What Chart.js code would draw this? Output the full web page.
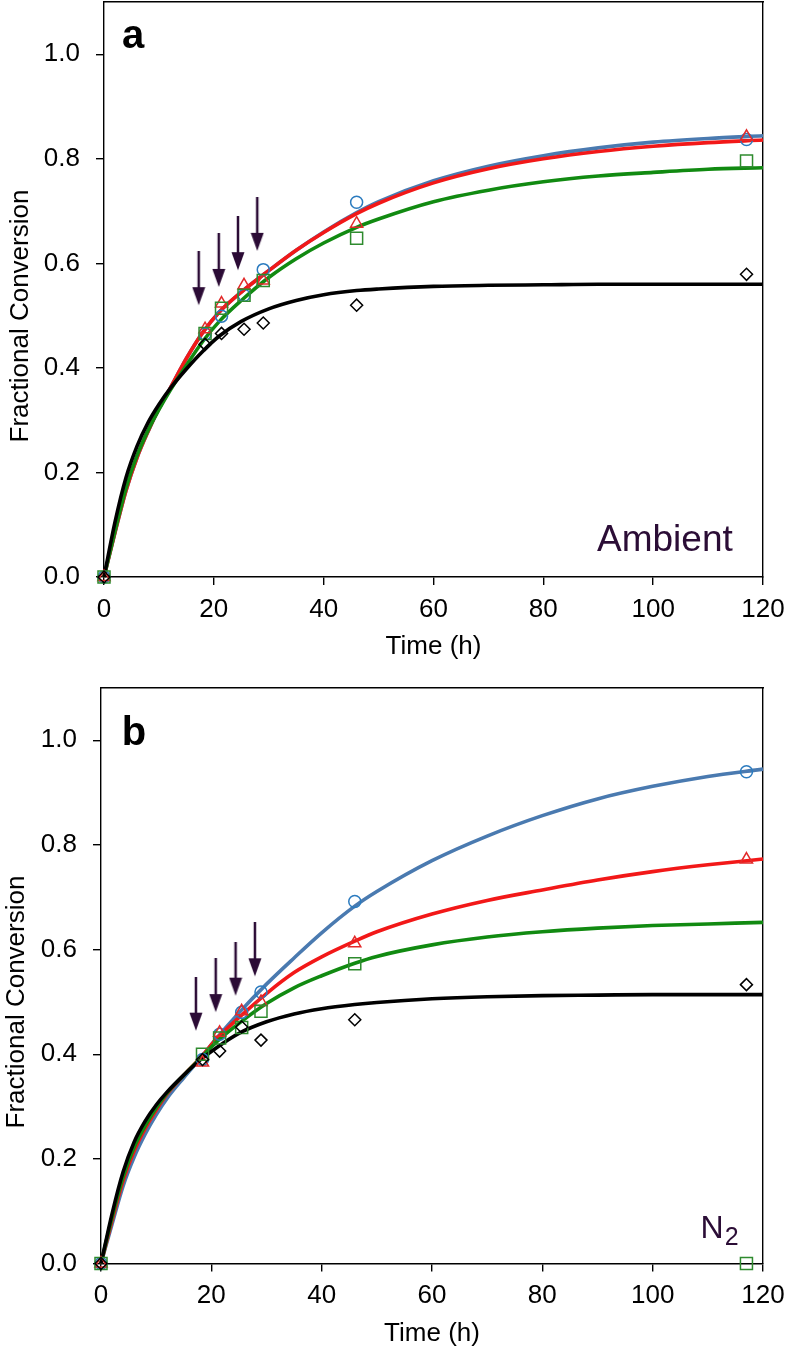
<!DOCTYPE html>
<html>
<head>
<meta charset="utf-8">
<script src="https://cdn.jsdelivr.net/npm/chart.js@4.4.0/dist/chart.umd.min.js"></script>
<style>
html,body{margin:0;padding:0;background:#fff;}
body{width:787px;height:1349px;position:relative;overflow:hidden;font-family:"Liberation Sans",Arial,Helvetica,sans-serif;}
canvas{position:absolute;left:0;}
.lbl{position:absolute;white-space:nowrap;line-height:1;}
.ytitle{position:absolute;width:400px;height:26px;line-height:26px;font-size:26px;text-align:center;transform:rotate(-90deg);transform-origin:50% 50%;color:#000;white-space:nowrap;}
</style>
</head>
<body>
<canvas id="chartA" width="787" height="680" style="top:0px"></canvas>
<canvas id="chartB" width="787" height="669" style="top:680px"></canvas>

<div class="ytitle" style="left:-181.5px;top:302.5px;">Fractional Conversion</div>
<div class="ytitle" style="left:-185.2px;top:988.5px;">Fractional Conversion</div>
<div class="lbl" style="left:122px;top:13.8px;font-size:40px;font-weight:bold;color:#000;">a</div>
<div class="lbl" style="left:121.7px;top:711.4px;font-size:40px;font-weight:bold;color:#000;">b</div>
<div class="lbl" style="left:597px;top:520.3px;font-size:37px;color:#2b0d36;">Ambient</div>
<div class="lbl" style="left:700.6px;top:1210.9px;font-size:32px;color:#2b0d36;">N<sub style="font-size:25px;vertical-align:-7px;margin-left:1px;line-height:1;">2</sub></div>

<script>
// ---------- axis ticks ----------
const xTicks = [0, 20, 40, 60, 80, 100, 120];
const xTickLabels = ['0', '20', '40', '60', '80', '100', '120'];
const yTicks = [0, 0.2, 0.4, 0.6, 0.8, 1.0];
const yTickLabels = ['0.0', '0.2', '0.4', '0.6', '0.8', '1.0'];
const xTitle = 'Time (h)';

// ---------- panel a (Ambient) measured points ----------
const timesA = [0, 18.4, 21.4, 25.5, 29, 46, 117];
const circlesA   = [0, 0.465, 0.499, 0.539, 0.588, 0.717, 0.837];
const trianglesA = [0, 0.474, 0.523, 0.558, 0.567, 0.676, 0.842];
const squaresA   = [0, 0.466, 0.514, 0.539, 0.567, 0.648, 0.796];
const diamondsA  = [0, 0.445, 0.466, 0.474, 0.486, 0.520, 0.579];

// ---------- fitted curves ----------
const fitTimes = [0, 2, 4, 6, 8, 10, 12, 15, 18, 21, 25, 30, 35, 40, 46, 50, 60, 70, 80, 90, 100, 110, 120];
const fitBlueA  = [0, 0.085, 0.165, 0.228, 0.278, 0.322, 0.360, 0.418, 0.468, 0.507, 0.545, 0.586, 0.625, 0.660, 0.697, 0.718, 0.758, 0.786, 0.806, 0.821, 0.832, 0.839, 0.844];
const fitRedA   = [0, 0.085, 0.165, 0.228, 0.278, 0.322, 0.360, 0.418, 0.468, 0.507, 0.545, 0.586, 0.625, 0.659, 0.695, 0.715, 0.754, 0.781, 0.800, 0.814, 0.824, 0.831, 0.836];
const fitGreenA = [0, 0.088, 0.170, 0.232, 0.280, 0.320, 0.356, 0.405, 0.451, 0.489, 0.529, 0.573, 0.609, 0.639, 0.669, 0.685, 0.718, 0.740, 0.756, 0.767, 0.774, 0.780, 0.783];
const fitBlackA = [0, 0.105, 0.190, 0.250, 0.295, 0.330, 0.360, 0.398, 0.432, 0.461, 0.489, 0.513, 0.529, 0.540, 0.548, 0.551, 0.556, 0.558, 0.559, 0.560, 0.560, 0.560, 0.560];

const arrowTimesA = [17.25, 20.9, 24.4, 27.9];
const arrowTipsA  = [0.520, 0.555, 0.587, 0.624];

// ---------- panel b (N2) measured points ----------
const timesB = [0, 18.4, 21.5, 25.5, 29, 46, 117];
const circlesB   = [0, 0.390, 0.438, 0.480, 0.519, 0.692, 0.940];
const trianglesB = [0, 0.384, 0.441, 0.482, 0.500, 0.612, 0.772];
const squaresB   = [0, 0.400, 0.431, 0.451, 0.482, 0.573, 0.000];
const diamondsB  = [0, 0.390, 0.406, 0.452, 0.427, 0.466, 0.533];

const fitBlueB  = [0, 0.075, 0.148, 0.203, 0.247, 0.284, 0.316, 0.355, 0.392, 0.431, 0.479, 0.534, 0.584, 0.632, 0.683, 0.711, 0.770, 0.817, 0.856, 0.888, 0.912, 0.931, 0.945];
const fitRedB   = [0, 0.082, 0.158, 0.215, 0.258, 0.293, 0.324, 0.360, 0.393, 0.430, 0.470, 0.516, 0.556, 0.586, 0.616, 0.634, 0.668, 0.694, 0.714, 0.733, 0.749, 0.762, 0.773];
const fitGreenB = [0, 0.088, 0.165, 0.222, 0.263, 0.297, 0.326, 0.360, 0.392, 0.424, 0.459, 0.497, 0.527, 0.550, 0.574, 0.587, 0.609, 0.624, 0.634, 0.641, 0.646, 0.649, 0.652];
const fitBlackB = [0, 0.095, 0.175, 0.232, 0.272, 0.303, 0.328, 0.360, 0.389, 0.413, 0.440, 0.462, 0.477, 0.487, 0.495, 0.499, 0.506, 0.510, 0.512, 0.513, 0.514, 0.514, 0.514];

const arrowTimesB = [17.2, 20.8, 24.4, 27.9];
const arrowTipsB  = [0.445, 0.4805, 0.512, 0.549];

// ---------- styles ----------
const FONT = '"Liberation Sans", Arial, Helvetica, sans-serif';
const ARROW_COLOR = '#2b0b35';
const COLORS = {
  blueLine: '#4a7ab0', redLine: '#f21818', greenLine: '#118a11', blackLine: '#000000',
  blueMark: '#2b7bbf', redMark: '#e22a2a', greenMark: '#2e8b2e', blackMark: '#000000'
};

Chart.defaults.font.family = FONT;
Chart.defaults.color = '#000';

function makeArrowImage() {
  const c = document.createElement('canvas');
  c.width = 14; c.height = 108;
  const g = c.getContext('2d');
  g.fillStyle = ARROW_COLOR;
  g.fillRect(5.75, 0, 2.5, 40);
  g.beginPath();
  g.moveTo(0.5, 36); g.lineTo(13.5, 36); g.lineTo(7, 54); g.closePath();
  g.fill();
  return c;
}
const arrowImg = makeArrowImage();

function pts(xs, ys) { return xs.map((x, i) => ({ x: x, y: ys[i] })); }

function markerSet(xs, ys, style, color, radius) {
  return {
    data: pts(xs, ys), showLine: false, pointStyle: style,
    pointRadius: radius, pointHoverRadius: radius,
    pointBorderColor: color, pointBackgroundColor: 'rgba(0,0,0,0)',
    pointBorderWidth: 1.5, borderColor: color, backgroundColor: 'rgba(0,0,0,0)',
    clip: false, order: 1
  };
}
function curveSet(xs, ys, color, order) {
  return {
    data: pts(xs, ys), showLine: true, pointRadius: 0, pointHoverRadius: 0,
    borderColor: color, backgroundColor: color, borderWidth: 3.6,
    cubicInterpolationMode: 'monotone', fill: false, clip: false, order: order
  };
}
function arrowSet(xs, ys) {
  return {
    data: pts(xs, ys), showLine: false, pointStyle: arrowImg,
    pointRadius: 5, pointHoverRadius: 5, clip: false, order: 0
  };
}

function buildChart(id, cfg) {
  const tickGrid = { display: true, drawOnChartArea: false, drawTicks: true, tickLength: 8, color: '#000', lineWidth: 1.4 };
  const border = { display: true, color: '#000', width: 1.4 };
  return new Chart(document.getElementById(id), {
    type: 'scatter',
    data: {
      datasets: [
        arrowSet(cfg.arrowX, cfg.arrowY),
        markerSet(cfg.times, cfg.diamonds, 'rectRot', COLORS.blackMark, 6),
        markerSet(cfg.times, cfg.squares, 'rect', COLORS.greenMark, 8.5),
        markerSet(cfg.times, cfg.triangles, 'triangle', COLORS.redMark, 7),
        markerSet(cfg.times, cfg.circles, 'circle', COLORS.blueMark, 6),
        curveSet(fitTimes, cfg.fitBlack, COLORS.blackLine, 2),
        curveSet(fitTimes, cfg.fitGreen, COLORS.greenLine, 3),
        curveSet(fitTimes, cfg.fitRed, COLORS.redLine, 4),
        curveSet(fitTimes, cfg.fitBlue, COLORS.blueLine, 5)
      ]
    },
    options: {
      responsive: false, animation: false, events: [],
      layout: { autoPadding: false, padding: { top: cfg.padTop, right: 24, bottom: cfg.padBottom, left: 0 } },
      plugins: { legend: { display: false }, tooltip: { enabled: false } },
      scales: {
        x: {
          type: 'linear', position: 'bottom', min: 0, max: 120,
          afterBuildTicks: s => { s.ticks = xTicks.map(v => ({ value: v })); },
          afterFit: s => { s.height = 85.5; s.paddingLeft = 0; s.paddingRight = 0; },
          ticks: { font: { size: 26 }, color: '#000', padding: 9, maxRotation: 0, autoSkip: false,
                   callback: (v, i) => xTickLabels[i] },
          grid: tickGrid, border: border,
          title: { display: true, text: xTitle, font: { size: 26 }, color: '#000', padding: { top: 0, bottom: 0 } }
        },
        x2: {
          type: 'linear', position: 'top', min: 0, max: 120,
          ticks: { display: false }, grid: { display: false, drawTicks: false }, border: border,
          afterFit: s => { s.height = 0; s.paddingLeft = 0; s.paddingRight = 0; }
        },
        y: {
          type: 'linear', position: 'left', min: 0, max: 1.1,
          afterBuildTicks: s => { s.ticks = yTicks.map(v => ({ value: v })); },
          afterFit: s => { s.width = cfg.leftW; s.paddingTop = 0; s.paddingBottom = 0; },
          ticks: { font: { size: 26 }, color: '#000', padding: 16, autoSkip: false,
                   callback: (v, i) => yTickLabels[i] },
          grid: tickGrid, border: border
        },
        y2: {
          type: 'linear', position: 'right', min: 0, max: 1.1,
          ticks: { display: false }, grid: { display: false, drawTicks: false }, border: border,
          afterFit: s => { s.width = 0; s.paddingTop = 0; s.paddingBottom = 0; }
        }
      }
    }
  });
}

buildChart('chartA', {
  times: timesA, circles: circlesA, triangles: trianglesA, squares: squaresA, diamonds: diamondsA,
  fitBlue: fitBlueA, fitRed: fitRedA, fitGreen: fitGreenA, fitBlack: fitBlackA,
  arrowX: arrowTimesA, arrowY: arrowTipsA,
  padTop: 2, padBottom: 17.5, leftW: 104
});
buildChart('chartB', {
  times: timesB, circles: circlesB, triangles: trianglesB, squares: squaresB, diamonds: diamondsB,
  fitBlue: fitBlueB, fitRed: fitRedB, fitGreen: fitGreenB, fitBlack: fitBlackB,
  arrowX: arrowTimesB, arrowY: arrowTipsB,
  padTop: 8, padBottom: 0, leftW: 101
});
</script>
</body>
</html>
